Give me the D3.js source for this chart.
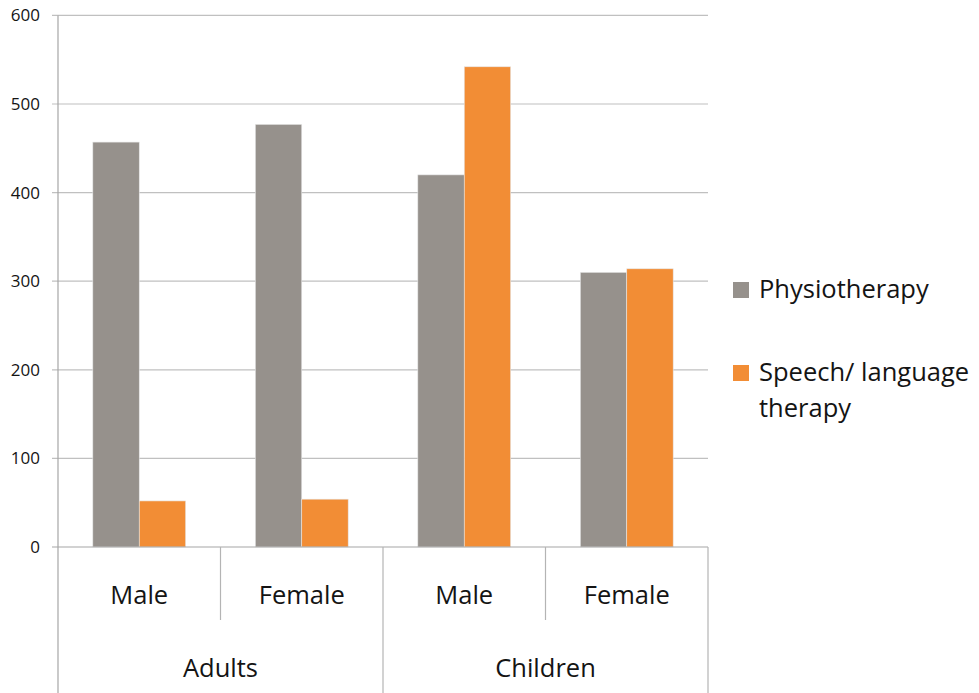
<!DOCTYPE html>
<html lang="en">
<head>
    <meta charset="UTF-8">
    <title>Therapy by group</title>
    <style>
        body {
            margin: 0;
            background-color: #ffffff;
        }
        svg {
            display: block;
        }
        text {
            font-family: "Open Sans", "Noto Sans", sans-serif;
            fill: #141414;
        }
    </style>
    <script src="https://d3js.org/d3.v7.min.js"></script>
</head>
<body>
    <svg width="979" height="693"></svg>

    <script>
        // data
        const groups = ["Adults", "Children"];
        const categories = ["Male", "Female", "Male", "Female"];
        const categoryGroup = ["Adults", "Adults", "Children", "Children"];
        const seriesNames = ["Physiotherapy", "Speech/ language therapy"];
        const physiotherapy = [457, 477, 420, 310];
        const speech = [52, 54, 542, 314];
        const yTicks = [0, 100, 200, 300, 400, 500, 600];
        const colors = ["#96918c", "#f28d35"];

        const svg = d3.select("svg");
        const plotLeft = 58, plotRight = 708, plotTop = 15.4, plotBottom = 547;

        const y = d3.scaleLinear().domain([0, 600]).range([plotBottom, plotTop]);
        const x = d3.scaleBand().domain(d3.range(categories.length)).range([plotLeft, plotRight]);
        // gap width 150% -> bar group is 2 / 3.5 of the band
        const inner = d3.scaleBand().domain([0, 1])
            .range([0, x.bandwidth() * 2 / 3.5]);
        const offset = (x.bandwidth() - x.bandwidth() * 2 / 3.5) / 2;

        // gridlines
        svg.append("g")
            .selectAll("line")
            .data(yTicks.filter(d => d > 0))
            .enter().append("line")
            .attr("x1", plotLeft - 6)
            .attr("x2", plotRight)
            .attr("y1", d => y(d))
            .attr("y2", d => y(d))
            .style("stroke", "#c0c0c0")
            .style("stroke-width", 1.2);

        // y tick labels
        svg.append("g")
            .selectAll("text")
            .data(yTicks)
            .enter().append("text")
            .attr("x", 40)
            .attr("y", d => y(d))
            .attr("dy", "0.35em")
            .attr("text-anchor", "end")
            .style("font-size", "17px")
            .text(d => d);

        // bars
        const allSeries = [physiotherapy, speech];
        allSeries.forEach((values, s) => {
            svg.append("g")
                .selectAll("rect")
                .data(values)
                .enter().append("rect")
                .attr("x", (d, i) => x(i) + offset + inner(s))
                .attr("y", d => y(d))
                .attr("width", inner.bandwidth())
                .attr("height", d => y(0) - y(d))
                .style("fill", colors[s])
                .style("stroke", "#e6e6e6")
                .style("stroke-width", 0.6);
        });

        // axes lines
        svg.append("line")
            .attr("x1", plotLeft).attr("x2", plotLeft)
            .attr("y1", plotTop).attr("y2", 693)
            .style("stroke", "#a6a6a6").style("stroke-width", 1.2);
        svg.append("line")
            .attr("x1", plotLeft - 6).attr("x2", plotRight)
            .attr("y1", plotBottom).attr("y2", plotBottom)
            .style("stroke", "#a6a6a6").style("stroke-width", 1.2);

        // category separators
        const seps = d3.range(1, categories.length + 1);
        svg.append("g")
            .selectAll("line")
            .data(seps)
            .enter().append("line")
            .attr("x1", i => plotLeft + i * x.bandwidth())
            .attr("x2", i => plotLeft + i * x.bandwidth())
            .attr("y1", plotBottom)
            .attr("y2", i => (i % 2 === 0) ? 693 : 620)
            .style("stroke", "#b4b4b4").style("stroke-width", 1.2);

        // category labels
        svg.append("g")
            .selectAll("text")
            .data(categories)
            .enter().append("text")
            .attr("x", (d, i) => x(i) + x.bandwidth() / 2)
            .attr("y", 595)
            .attr("dy", "0.35em")
            .attr("text-anchor", "middle")
            .style("font-size", "25.5px")
            .text(d => d);

        // group labels
        svg.append("g")
            .selectAll("text")
            .data(groups)
            .enter().append("text")
            .attr("x", g => {
                const idx = d3.range(categories.length).filter(i => categoryGroup[i] === g);
                return (x(idx[0]) + x(idx[idx.length - 1]) + x.bandwidth()) / 2;
            })
            .attr("y", 668)
            .attr("dy", "0.35em")
            .attr("text-anchor", "middle")
            .style("font-size", "25.5px")
            .text(d => d);

        // legend
        const legend = svg.append("g");
        const legendRows = [["Physiotherapy"], ["Speech/ language", "therapy"]];
        legendRows.forEach((lines, s) => {
            const baseY = 298 + s * 83;
            legend.append("rect")
                .attr("x", 733)
                .attr("y", baseY - 16)
                .attr("width", 16)
                .attr("height", 16)
                .style("fill", colors[s]);
            lines.forEach((t, j) => {
                legend.append("text")
                    .attr("x", 759)
                    .attr("y", baseY + j * 36)
                    .style("font-size", "25.5px")
                    .text(t);
            });
        });
    </script>
</body>
</html>
